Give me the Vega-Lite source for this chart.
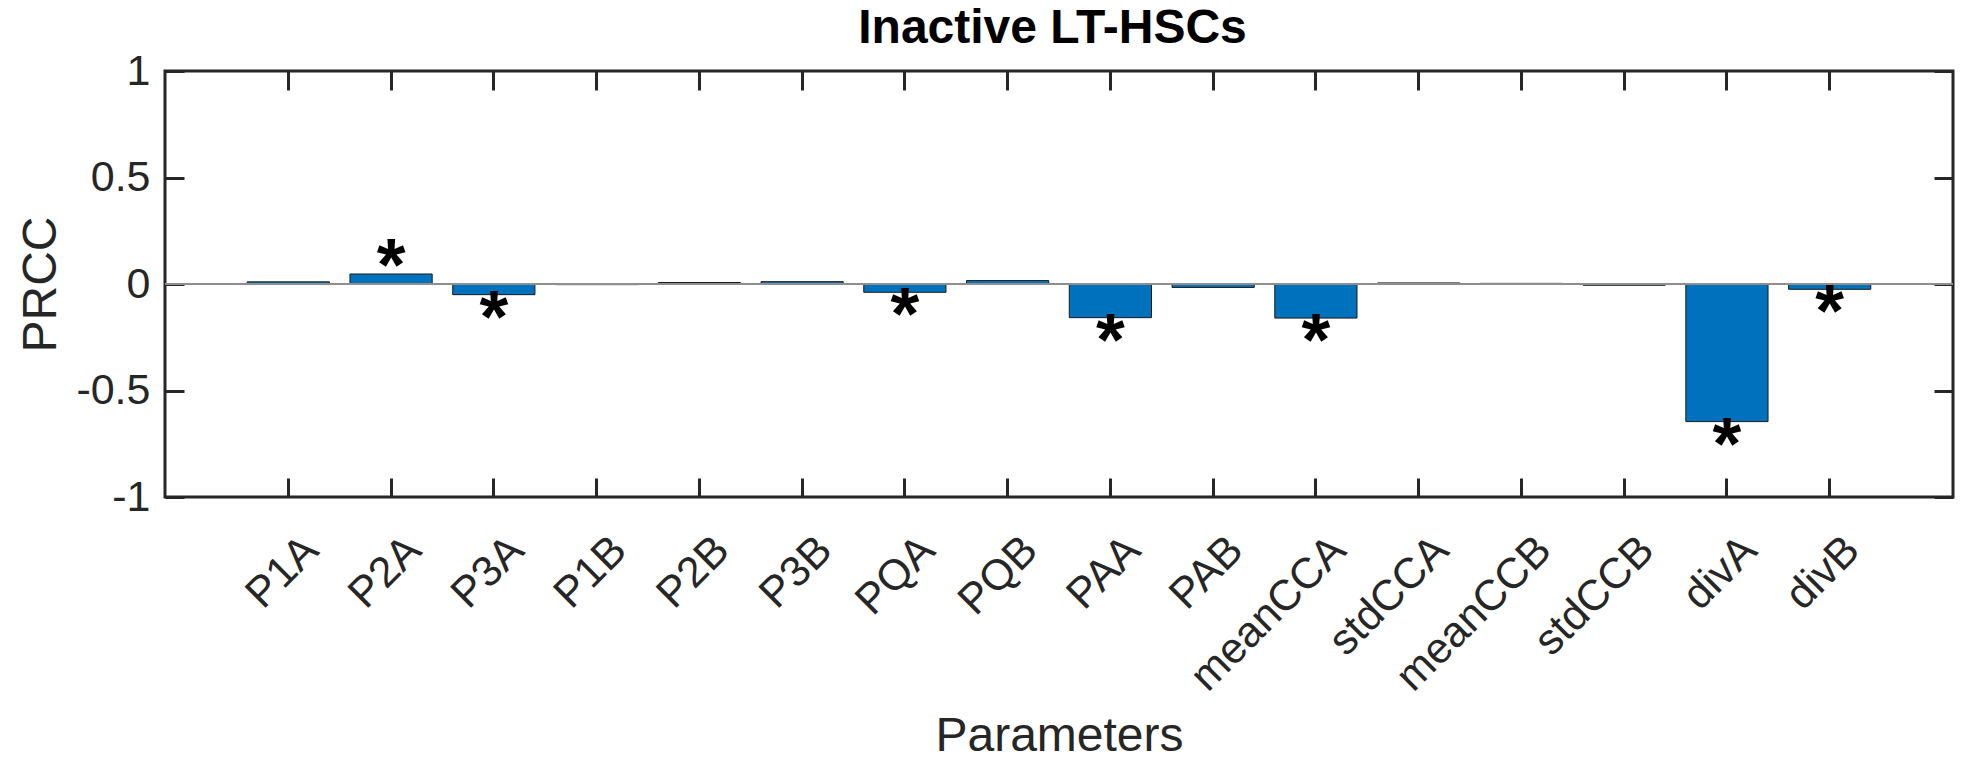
{
  "$schema": "https://vega.github.io/schema/vega-lite/v6.json",
  "width": 1788,
  "height": 426,
  "autosize": {"type": "none"},
  "padding": {"left": 165, "top": 71, "right": 12, "bottom": 262},
  "background": "white",
  "config": {
    "font": "Liberation Sans",
    "view": {"stroke": "#262626", "strokeWidth": 3}
  },
  "data": {
    "values": [
      {"param": "P1A", "prcc": 0.010, "sig": false},
      {"param": "P2A", "prcc": 0.047, "sig": true},
      {"param": "P3A", "prcc": -0.050, "sig": true},
      {"param": "P1B", "prcc": -0.003, "sig": false},
      {"param": "P2B", "prcc": 0.007, "sig": false},
      {"param": "P3B", "prcc": 0.011, "sig": false},
      {"param": "PQA", "prcc": -0.039, "sig": true},
      {"param": "PQB", "prcc": 0.016, "sig": false},
      {"param": "PAA", "prcc": -0.158, "sig": true},
      {"param": "PAB", "prcc": -0.016, "sig": false},
      {"param": "meanCCA", "prcc": -0.160, "sig": true},
      {"param": "stdCCA", "prcc": 0.005, "sig": false},
      {"param": "meanCCB", "prcc": 0.003, "sig": false},
      {"param": "stdCCB", "prcc": -0.006, "sig": false},
      {"param": "divA", "prcc": -0.646, "sig": true},
      {"param": "divB", "prcc": -0.025, "sig": true}
    ]
  },
  "layer": [
    {
      "mark": {"type": "bar", "color": "#0072BD", "stroke": "#1a1a1a", "strokeWidth": 1},
      "encoding": {
        "x": {
          "field": "param",
          "type": "nominal",
          "sort": null,
          "scale": {"paddingInner": 0.2, "paddingOuter": 0.8},
          "axis": {
            "orient": "bottom",
            "title": "Parameters",
            "titleFont": "Liberation Sans",
            "titleFontSize": 48,
            "titleFontWeight": "normal",
            "titleColor": "#262626",
            "titleBaseline": "alphabetic",
            "titleY": 253,
            "labelFont": "Liberation Sans",
            "labelFontSize": 43,
            "labelColor": "#262626",
            "labelAngle": -45,
            "labelAlign": "right",
            "labelBaseline": "middle",
            "labelOffset": 23,
            "labelPadding": 65,
            "labelLimit": 600,
            "labelOverlap": false,
            "labelBound": false,
            "tickSize": -19,
            "tickWidth": 3,
            "tickColor": "#262626",
            "domain": false,
            "grid": false
          }
        },
        "y": {
          "field": "prcc",
          "type": "quantitative",
          "scale": {"domain": [-1, 1], "nice": false, "zero": false},
          "axis": {
            "orient": "left",
            "values": [-1, -0.5, 0, 0.5, 1],
            "labelExpr": "'' + datum.value",
            "title": "PRCC",
            "titleFont": "Liberation Sans",
            "titleFontSize": 48,
            "titleFontWeight": "normal",
            "titleColor": "#262626",
            "titleBaseline": "alphabetic",
            "titleAngle": -90,
            "titleX": -110,
            "titleY": 213,
            "labelFont": "Liberation Sans",
            "labelFontSize": 43,
            "labelColor": "#262626",
            "labelPadding": 34,
            "labelFlush": false,
            "labelOverlap": false,
            "labelBound": false,
            "tickSize": -19,
            "tickWidth": 3,
            "tickColor": "#262626",
            "domain": false,
            "grid": false
          }
        }
      }
    },
    {
      "mark": {"type": "rule", "color": "#8f8f8f", "strokeWidth": 2},
      "encoding": {
        "y": {"datum": 0, "type": "quantitative", "axis": null}
      }
    },
    {
      "transform": [{"filter": "datum.sig && datum.prcc > 0"}],
      "mark": {"type": "text", "text": "*", "font": "Liberation Sans", "fontSize": 74, "fontWeight": "bold", "color": "#000000", "baseline": "alphabetic", "align": "center", "dy": 16},
      "encoding": {
        "x": {
          "field": "param",
          "type": "nominal",
          "sort": null,
          "axis": {
            "orient": "top",
            "labels": false,
            "title": "Inactive LT-HSCs",
            "titleFont": "Liberation Sans",
            "titleFontSize": 48,
            "titleFontWeight": "bold",
            "titleColor": "#000000",
            "titleBaseline": "alphabetic",
            "titleX": 887,
            "titleY": -29,
            "tickSize": -19,
            "tickWidth": 3,
            "tickColor": "#262626",
            "domain": false,
            "grid": false
          }
        },
        "y": {
          "field": "prcc",
          "type": "quantitative",
          "axis": {"orient": "right", "values": [-1, -0.5, 0, 0.5, 1], "labels": false, "title": null, "tickSize": -19, "tickWidth": 3, "tickColor": "#262626", "domain": false, "grid": false}
        }
      }
    },
    {
      "transform": [{"filter": "datum.sig && datum.prcc < 0"}],
      "mark": {"type": "text", "text": "*", "font": "Liberation Sans", "fontSize": 74, "fontWeight": "bold", "color": "#000000", "baseline": "alphabetic", "align": "center", "dy": 47},
      "encoding": {
        "x": {"field": "param", "type": "nominal", "sort": null, "axis": null},
        "y": {"field": "prcc", "type": "quantitative", "axis": null}
      }
    }
  ],
  "resolve": {"axis": {"x": "independent", "y": "independent"}}
}
